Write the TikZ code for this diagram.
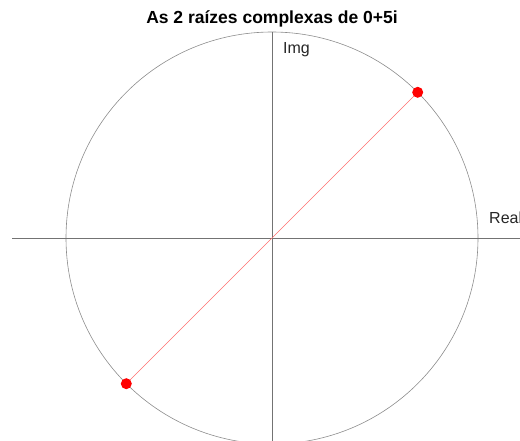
\documentclass[tikz,border=0pt]{standalone}
\usepackage{fontspec}
\setmainfont{Liberation Sans}
\definecolor{rootpink}{RGB}{255,110,110}
\begin{document}
\begin{tikzpicture}[x=1pt,y=-1pt,
  axisline/.style={draw=black!55,line width=0.9pt},
  circline/.style={draw=black!45,line width=0.6pt},
  rootdot/.style={circle,fill=red,inner sep=0pt,minimum size=11pt},
  rootline/.style={draw=rootpink,line width=0.7pt},
  lbl/.style={font=\fontsize{16}{18}\selectfont,text=black!85,inner sep=0pt}]
\useasboundingbox (0,0) rectangle (520,441);
\clip (0,0) rectangle (520,441);
\coordinate (O) at (272,238);
\coordinate (xl) at (12,238);
\coordinate (xr) at (525,238);
\coordinate (yt) at (272,32);
\coordinate (yb) at (272,445);
\coordinate (r1) at (417.7,92.3);
\coordinate (r2) at (126.3,383.7);
\draw[circline] (O) circle (206);
\draw[axisline] (xl) -- (xr);
\draw[axisline] (yt) -- (yb);
\draw[rootline] (r1) -- (r2);
\node[rootdot] (p1) at (r1) {};
\node[rootdot] (p2) at (r2) {};
\node[font=\bfseries\fontsize{17.5}{20}\selectfont,inner sep=0pt] (title) at (272,19) {As 2 raízes complexas de 0+5i};
\node[lbl,anchor=west] (img) at (283,50) {Img};
\node[lbl,anchor=west] (real) at (489,218) {Real};
\end{tikzpicture}
\end{document}
